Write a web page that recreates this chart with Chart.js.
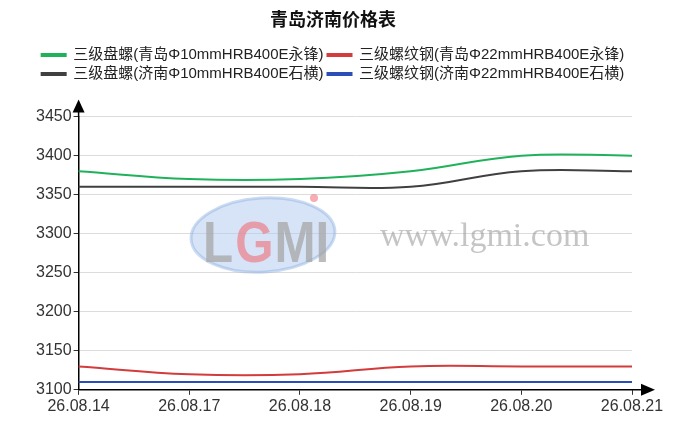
<!DOCTYPE html>
<html>
<head>
<meta charset="utf-8">
<script src="https://cdn.jsdelivr.net/npm/chart.js@4"></script>
<style>
  html, body { margin: 0; padding: 0; background: #fff; }
  #wrap { width: 692px; height: 434px; }
</style>
</head>
<body>
<div id="wrap"><canvas id="priceChart" width="692" height="434"></canvas></div>
<script>
const dates = ['26.08.14', '26.08.17', '26.08.18', '26.08.19', '26.08.20', '26.08.21'];
const qdPanluo = [3380, 3370, 3370, 3380, 3400, 3400];
const qdLuowen = [3130, 3120, 3120, 3130, 3130, 3130];
const jnPanluo = [3360, 3360, 3360, 3360, 3380, 3380];
const jnLuowen = [3110, 3110, 3110, 3110, 3110, 3110];
const yTicks = [3100, 3150, 3200, 3250, 3300, 3350, 3400, 3450];

const fontFamily = "'Liberation Sans', 'Noto Sans CJK SC', sans-serif";

// 图例下方留空
const legendGap = {
    id: 'legendGap',
    beforeInit(chart) {
        const origFit = chart.legend.fit;
        chart.legend.fit = function () {
            origFit.bind(chart.legend)();
            this.height += 25;
        };
    }
};

// 水印 + 坐标轴箭头
const extras = {
    id: 'extras',
    beforeDatasetsDraw(chart) {
        const ctx = chart.ctx;
        ctx.save();
        ctx.beginPath();
        ctx.ellipse(263, 235, 72, 37, -0.06, 0, Math.PI * 2);
        ctx.fillStyle = 'rgba(175,200,238,0.5)';
        ctx.fill();
        ctx.strokeStyle = 'rgba(140,175,225,0.45)';
        ctx.lineWidth = 3;
        ctx.stroke();
        ctx.textBaseline = 'alphabetic';
        ctx.save();
        ctx.translate(203, 262);
        ctx.scale(0.85, 1);
        ctx.font = "bold 58px 'Liberation Sans', sans-serif";
        ctx.fillStyle = 'rgba(165,165,165,0.75)';
        ctx.fillText('L', 0, 0);
        ctx.fillStyle = 'rgba(240,120,130,0.65)';
        ctx.fillText('G', 38, 0);
        ctx.fillStyle = 'rgba(165,165,165,0.75)';
        ctx.fillText('MI', 84, 0);
        ctx.restore();
        ctx.beginPath();
        ctx.arc(314, 198, 4, 0, Math.PI * 2);
        ctx.fillStyle = 'rgba(240,120,130,0.6)';
        ctx.fill();
        ctx.font = "34px 'Liberation Serif', serif";
        ctx.fillStyle = 'rgba(150,150,150,0.55)';
        ctx.fillText('www.lgmi.com', 380, 246);
        ctx.restore();
    },
    afterDraw(chart) {
        const ctx = chart.ctx;
        const a = chart.chartArea;
        ctx.save();
        ctx.strokeStyle = '#000';
        ctx.lineWidth = 1.5;
        ctx.beginPath();
        ctx.moveTo(a.left, a.top);
        ctx.lineTo(a.left, a.top - 5);
        ctx.moveTo(a.right, a.bottom);
        ctx.lineTo(a.right + 10, a.bottom);
        ctx.stroke();
        ctx.fillStyle = '#000';
        ctx.beginPath();
        ctx.moveTo(a.left - 6, a.top - 4);
        ctx.lineTo(a.left + 6, a.top - 4);
        ctx.lineTo(a.left, a.top - 17);
        ctx.closePath();
        ctx.fill();
        ctx.beginPath();
        ctx.moveTo(a.right + 9, a.bottom - 6);
        ctx.lineTo(a.right + 9, a.bottom + 6);
        ctx.lineTo(a.right + 23, a.bottom);
        ctx.closePath();
        ctx.fill();
        ctx.restore();
    }
};

function line(label, data, color) {
    return {
        label: label,
        data: data,
        borderColor: color,
        backgroundColor: color,
        borderWidth: 2,
        pointRadius: 0,
        tension: 0.4,
        fill: false
    };
}

document.addEventListener('DOMContentLoaded', () => {
    const ctx = document.getElementById('priceChart').getContext('2d');
    new Chart(ctx, {
        type: 'line',
        data: {
            labels: dates,
            datasets: [
                line('三级盘螺(青岛Φ10mmHRB400E永锋)', qdPanluo, '#1fb25a'),
                line('三级螺纹钢(青岛Φ22mmHRB400E永锋)', qdLuowen, '#d23c3c'),
                line('三级盘螺(济南Φ10mmHRB400E石横)', jnPanluo, '#404040'),
                line('三级螺纹钢(济南Φ22mmHRB400E石横)', jnLuowen, '#2a50b8')
            ]
        },
        plugins: [extras, legendGap],
        options: {
            responsive: false,
            animation: false,
            layout: { padding: { left: 34, right: 60, top: 6, bottom: 16 } },
            plugins: {
                title: {
                    display: true,
                    text: '青岛济南价格表',
                    color: '#111',
                    font: { family: fontFamily, size: 18, weight: 'bold' },
                    padding: { top: 4, bottom: 12 }
                },
                legend: {
                    labels: {
                        color: '#222',
                        boxWidth: 24,
                        boxHeight: 2,
                        padding: 4,
                        font: { family: fontFamily, size: 15 }
                    }
                },
                tooltip: { enabled: false }
            },
            scales: {
                x: {
                    offset: false,
                    grid: { drawOnChartArea: false, drawTicks: true, tickLength: 5, tickColor: '#333' },
                    border: { color: '#000', width: 1.5 },
                    ticks: { color: '#333', font: { family: fontFamily, size: 16 }, maxRotation: 0, padding: 2 }
                },
                y: {
                    min: 3100,
                    max: 3450,
                    afterBuildTicks: (axis) => { axis.ticks = yTicks.map(v => ({ value: v })); },
                    grid: { color: '#dcdcdc', tickLength: 5, tickColor: '#333' },
                    border: { color: '#000', width: 1.5 },
                    ticks: {
                        color: '#333',
                        font: { family: fontFamily, size: 16 },
                        padding: 2,
                        callback: (v) => String(v)
                    }
                }
            }
        }
    });
});
</script>
</body>
</html>
